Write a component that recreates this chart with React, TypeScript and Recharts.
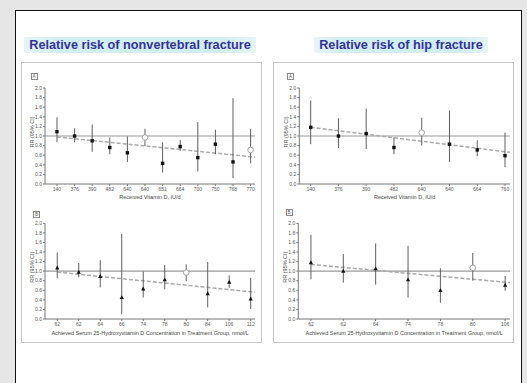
import React from 'react';
import { ComposedChart, Scatter, XAxis, YAxis, ReferenceLine, ErrorBar } from 'recharts';

// ---- Nonvertebral fracture, by received vitamin D dose (IU/d)
const nvDoseLabels = ['140', '376', '390', '482', '640', '640', '651', '664', '700', '750', '768', '770'];
const nvDoseRR = [1.09, 1.0, 0.9, 0.76, 0.65, 0.97, 0.43, 0.78, 0.55, 0.83, 0.46, 0.71];
const nvDoseLow = [0.87, 0.87, 0.67, 0.62, 0.46, 0.79, 0.24, 0.69, 0.26, 0.62, 0.12, 0.43];
const nvDoseHigh = [1.39, 1.16, 1.24, 0.97, 0.99, 1.15, 0.87, 0.92, 1.29, 1.13, 1.79, 1.15];
const nvDoseOpen = [5, 11];
const nvDoseTrendX = [0, 11.25];
const nvDoseTrendY = [0.98, 0.56];

// ---- Nonvertebral fracture, by achieved serum 25(OH)D (nmol/L)
const nvSerumLabels = ['62', '62', '64', '66', '74', '78', '80', '84', '106', '112'];
const nvSerumRR = [1.07, 0.98, 0.89, 0.45, 0.63, 0.82, 0.97, 0.53, 0.77, 0.42];
const nvSerumLow = [0.85, 0.87, 0.66, 0.1, 0.45, 0.62, 0.79, 0.24, 0.65, 0.21];
const nvSerumHigh = [1.39, 1.17, 1.23, 1.78, 0.99, 1.13, 1.14, 1.19, 0.91, 0.86];
const nvSerumOpen = [6];
const nvSerumTrendX = [0, 9.2];
const nvSerumTrendY = [0.98, 0.56];

// ---- Hip fracture, by received vitamin D dose (IU/d)
const hipDoseLabels = ['140', '376', '390', '482', '640', '640', '664', '760'];
const hipDoseRR = [1.18, 1.0, 1.05, 0.76, 1.07, 0.83, 0.71, 0.59];
const hipDoseLow = [0.83, 0.75, 0.73, 0.62, 0.8, 0.46, 0.58, 0.35];
const hipDoseHigh = [1.74, 1.37, 1.57, 0.97, 1.38, 1.53, 0.91, 1.07];
const hipDoseOpen = [4];
const hipDoseTrendX = [0, 7.18];
const hipDoseTrendY = [1.18, 0.66];

// ---- Hip fracture, by achieved serum 25(OH)D (nmol/L)
const hipSerumLabels = ['62', '62', '64', '74', '78', '80', '106'];
const hipSerumRR = [1.18, 1.0, 1.05, 0.82, 0.6, 1.07, 0.71];
const hipSerumLow = [0.83, 0.76, 0.72, 0.45, 0.34, 0.8, 0.59];
const hipSerumHigh = [1.76, 1.36, 1.58, 1.53, 1.06, 1.38, 0.9];
const hipSerumOpen = [5];
const hipSerumTrendX = [0, 6.15];
const hipSerumTrendY = [1.14, 0.76];

const yTicks = [0, 0.2, 0.4, 0.6, 0.8, 1.0, 1.2, 1.4, 1.6, 1.8, 2.0];
const titles = ['Relative risk of nonvertebral fracture', 'Relative risk of hip fracture'];
const doseAxisTitle = 'Received Vitamin D, IU/d';
const serumAxisTitle = 'Achieved Serum 25-Hydroxyvitamin D Concentration in Treatment Group, nmol/L';
const yAxisTitle = 'RR (95% CI)';

const FONT = '"Liberation Sans", Arial, sans-serif';

function build(labels: string[], rr: number[], low: number[], high: number[], open: number[]) {
  return labels.map((_, i) => ({
    x: i,
    rr: rr[i],
    err: [+(rr[i] - low[i]).toFixed(3), +(high[i] - rr[i]).toFixed(3)],
    open: open.includes(i),
  }));
}

const YLabel = (props: any) => {
  const vb = props.viewBox || {};
  const cx = vb.x + vb.width - 13.3;
  const cy = vb.y + vb.height / 2 - 4;
  return (
    <text x={cx} y={cy} transform={`rotate(-90, ${cx}, ${cy})`} textAnchor="middle" dominantBaseline="central"
      fontSize={5.5} fill="#555" fontFamily={FONT}>
      {yAxisTitle}
    </text>
  );
};

type PanelProps = {
  left: number; top: number; width: number; height: number;
  yAxisWidth: number; mTop: number; mRight: number; xAxisHeight: number; labelOffset: number;
  labels: string[]; rr: number[]; low: number[]; high: number[]; open: number[];
  domain: [number, number]; trendX: number[]; trendY: number[];
  xTitle: string; marker: 'square' | 'triangle';
};

function Panel(p: PanelProps) {
  const data = build(p.labels, p.rr, p.low, p.high, p.open);
  const shape = (s: any) => {
    const { cx, cy, payload } = s;
    if (payload.open) {
      return <circle cx={cx} cy={cy} r={2.8} fill="#fff" stroke="#999" strokeWidth={0.9} />;
    }
    if (p.marker === 'triangle') {
      return <polygon points={`${cx},${cy - 2.3} ${cx - 2.1},${cy + 1.6} ${cx + 2.1},${cy + 1.6}`} fill="#111" />;
    }
    return <rect x={cx - 1.7} y={cy - 1.7} width={3.4} height={3.4} fill="#111" />;
  };
  return (
    <div style={{ position: 'absolute', left: p.left, top: p.top }}>
      <ComposedChart width={p.width} height={p.height} data={data}
        margin={{ top: p.mTop, right: p.mRight, bottom: 0, left: 0 }}>
        <XAxis type="number" dataKey="x" domain={p.domain} allowDataOverflow
          ticks={p.labels.map((_, i) => i)} tickFormatter={(v: number) => p.labels[v] ?? ''}
          interval={0} height={p.xAxisHeight} tickSize={2} tickMargin={1.5}
          stroke="#777" tick={{ fontSize: 5, fill: '#555', fontFamily: FONT }}
          label={{ value: p.xTitle, position: 'insideBottom', offset: p.labelOffset, fontSize: 5.5, fill: '#444', fontFamily: FONT }} />
        <YAxis type="number" dataKey="rr" domain={[0, 2]} ticks={yTicks} interval={0}
          tickFormatter={(v: number) => v.toFixed(1)} width={p.yAxisWidth} tickSize={2} tickMargin={1}
          stroke="#777" tick={{ fontSize: 5, fill: '#555', fontFamily: FONT }}
          label={<YLabel />} />
        <ReferenceLine y={1} stroke="#9a9a9a" strokeWidth={1.1} />
        <ReferenceLine segment={[{ x: p.trendX[0], y: p.trendY[0] }, { x: p.trendX[1], y: p.trendY[1] }]}
          stroke="#aaaaaa" strokeWidth={1.5} strokeDasharray="4 2" ifOverflow="visible" />
        <Scatter dataKey="rr" isAnimationActive={false} shape={shape}>
          <ErrorBar dataKey="err" direction="y" width={0} stroke="#5e5e5e" strokeWidth={1} />
        </Scatter>
      </ComposedChart>
    </div>
  );
}

const Tag = ({ left, top, text }: { left: number; top: number; text: string }) => (
  <div style={{
    position: 'absolute', left, top, width: 5, height: 5, border: '0.8px solid #888', fontSize: 4.5,
    lineHeight: '5px', textAlign: 'center', color: '#555', fontFamily: FONT,
  }}>{text}</div>
);

export default function App() {
  return (
    <div style={{ position: 'absolute', left: 0, top: 0, width: 527, height: 383, background: '#e6e6e6', overflow: 'hidden', fontFamily: FONT }}>
      <div style={{ position: 'absolute', left: 15, top: 10, width: 505, height: 400, background: '#fff', border: '1.6px solid #111' }} />
      {/* titles */}
      <div style={{ position: 'absolute', left: 24, top: 37, width: 232, height: 16, background: 'linear-gradient(to right, #e6f5f6, #d2eef0 15%, #d2eef0 85%, #e6f5f6)' }} />
      <div style={{ position: 'absolute', left: 24, top: 37, width: 232, height: 16, lineHeight: '17px', textAlign: 'center', fontWeight: 'bold', fontSize: 12.7, color: '#333399' }}>{titles[0]}</div>
      <div style={{ position: 'absolute', left: 314, top: 37, width: 174, height: 16, background: 'linear-gradient(to right, #e6f5f6, #d2eef0 15%, #d2eef0 85%, #e6f5f6)' }} />
      <div style={{ position: 'absolute', left: 314, top: 37, width: 174, height: 16, lineHeight: '17px', textAlign: 'center', fontWeight: 'bold', fontSize: 12.7, color: '#333399' }}>{titles[1]}</div>
      {/* panel frames */}
      <div style={{ position: 'absolute', left: 21, top: 62, width: 241, height: 281, border: '1px solid #c4c4c4', boxSizing: 'border-box' }} />
      <div style={{ position: 'absolute', left: 273, top: 62, width: 241, height: 281, border: '1px solid #c4c4c4', boxSizing: 'border-box' }} />
      <Tag left={30.5} top={73} text="A" />
      <Tag left={33} top={210.5} text="B" />
      <Tag left={287} top={73} text="A" />
      <Tag left={285.5} top={208.5} text="B" />

      <Panel left={21} top={70} width={241} height={135} yAxisWidth={24} mTop={18} mRight={7} xAxisHeight={21} labelOffset={6}
        labels={nvDoseLabels} rr={nvDoseRR} low={nvDoseLow} high={nvDoseHigh} open={nvDoseOpen}
        domain={[-0.68, 11.25]} trendX={nvDoseTrendX} trendY={nvDoseTrendY} xTitle={doseAxisTitle} marker="square" />
      <Panel left={21} top={205} width={241} height={140} yAxisWidth={24} mTop={18.3} mRight={7} xAxisHeight={26} labelOffset={10}
        labels={nvSerumLabels} rr={nvSerumRR} low={nvSerumLow} high={nvSerumHigh} open={nvSerumOpen}
        domain={[-0.57, 9.2]} trendX={nvSerumTrendX} trendY={nvSerumTrendY} xTitle={serumAxisTitle} marker="triangle" />
      <Panel left={273} top={70} width={241} height={135} yAxisWidth={26.3} mTop={18} mRight={4} xAxisHeight={21} labelOffset={6}
        labels={hipDoseLabels} rr={hipDoseRR} low={hipDoseLow} high={hipDoseHigh} open={hipDoseOpen}
        domain={[-0.41, 7.18]} trendX={hipDoseTrendX} trendY={hipDoseTrendY} xTitle={doseAxisTitle} marker="square" />
      <Panel left={273} top={205} width={241} height={140} yAxisWidth={25.3} mTop={18.3} mRight={4} xAxisHeight={26} labelOffset={10}
        labels={hipSerumLabels} rr={hipSerumRR} low={hipSerumLow} high={hipSerumHigh} open={hipSerumOpen}
        domain={[-0.39, 6.15]} trendX={hipSerumTrendX} trendY={hipSerumTrendY} xTitle={serumAxisTitle} marker="triangle" />
    </div>
  );
}
